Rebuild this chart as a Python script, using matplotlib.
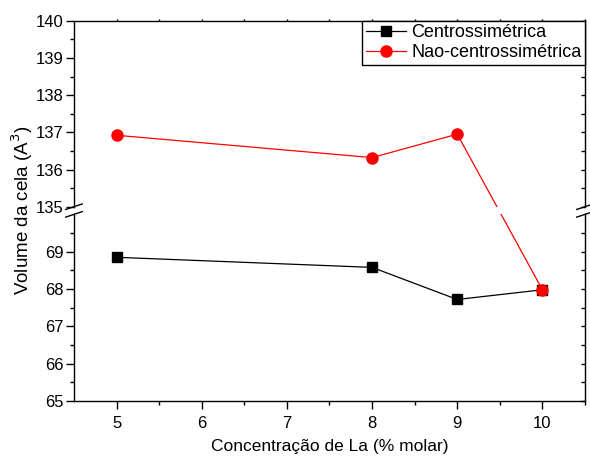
import matplotlib
matplotlib.use('Agg')
import matplotlib.pyplot as plt
from matplotlib.lines import Line2D
from matplotlib.ticker import FixedLocator
import numpy as np

plt.rcParams['font.family'] = ['Liberation Sans', 'DejaVu Sans']

conc = [5, 8, 9, 10]
vol_centro = [68.85, 68.58, 67.72, 67.98]
vol_nao = [136.92, 136.32, 136.95, 67.98]
series_names = ['Centrossimétrica', 'Nao-centrossimétrica']

fig = plt.figure(figsize=(5.9, 4.57), dpi=100)
ax_top = fig.add_axes([0.1254, 0.5477, 0.8661, 0.4070])
ax_bot = fig.add_axes([0.1254, 0.1225, 0.8661, 0.4084])

ax_top.set_xlim(4.5, 10.5)
ax_bot.set_xlim(4.5, 10.5)
ax_top.set_ylim(135, 140)
ax_bot.set_ylim(65, 70)

ax_top.spines['bottom'].set_visible(False)
ax_bot.spines['top'].set_visible(False)

ymaj = {ax_top: [135, 136, 137, 138, 139, 140], ax_bot: [65, 66, 67, 68, 69]}
ymin = {ax_top: np.arange(135.5, 140, 1.0), ax_bot: np.arange(65.5, 70, 1.0)}

for ax in (ax_top, ax_bot):
    for s in ax.spines.values():
        s.set_linewidth(1.0)
    ax.yaxis.set_major_locator(FixedLocator(ymaj[ax]))
    ax.yaxis.set_minor_locator(FixedLocator(ymin[ax]))
    ax.tick_params(axis='y', which='major', direction='out', length=5.5, width=1,
                   labelsize=12, pad=2)
    ax.tick_params(axis='y', which='minor', direction='out', length=3, width=1)

    # right-hand ticks point inward: separate twin axis
    tw = ax.twinx()
    tw.set_ylim(ax.get_ylim())
    for s in tw.spines.values():
        s.set_visible(False)
    tw.yaxis.set_major_locator(FixedLocator(ymaj[ax]))
    tw.yaxis.set_minor_locator(FixedLocator(ymin[ax]))
    tw.tick_params(axis='y', which='both', direction='in', length=3, width=1,
                   labelright=False)
    tw.set_xticks([])

xmaj = [5, 6, 7, 8, 9, 10]
xmin = [5.5, 6.5, 7.5, 8.5, 9.5, 10.5]
for ax in (ax_top, ax_bot):
    ax.xaxis.set_major_locator(FixedLocator(xmaj))
    ax.xaxis.set_minor_locator(FixedLocator(xmin))

ax_top.tick_params(axis='x', which='both', bottom=False, labelbottom=False,
                   top=True, direction='out', length=1.5, width=1)
ax_bot.tick_params(axis='x', which='major', direction='out', length=5.5, width=1,
                   labelsize=12, pad=5)
ax_bot.tick_params(axis='x', which='minor', direction='out', length=3, width=1)

# black series (lower panel only)
ax_bot.plot(conc, vol_centro, color='black', lw=0.9, marker='s', ms=7, zorder=3)

# red series crosses the break: map points to display coords, then into each panel
fig.canvas.draw()
pts_disp = []
for x, y in zip(conc, vol_nao):
    ax = ax_top if y > 100 else ax_bot
    pts_disp.append(ax.transData.transform((x, y)))
pts_disp = np.array(pts_disp)
for ax in (ax_top, ax_bot):
    d = ax.transData.inverted().transform(pts_disp)
    ax.plot(d[:, 0], d[:, 1], color='red', lw=0.9, marker='o', ms=8, zorder=3)

# legend
handles = [Line2D([], [], color='black', lw=0.9, marker='s', ms=7),
           Line2D([], [], color='red', lw=0.9, marker='o', ms=8)]
leg = fig.legend(handles, series_names, loc='upper right',
                 bbox_to_anchor=(0.1254 + 0.8661, 0.5477 + 0.4070),
                 borderaxespad=0, fontsize=13, fancybox=False, framealpha=1,
                 edgecolor='black', handlelength=2.2, handletextpad=0.3,
                 borderpad=0.2, labelspacing=0.15)
leg.get_frame().set_linewidth(1.0)

# break marks
for xf in (0.1254, 0.1254 + 0.8661):
    for yf in (0.5477, 0.5309):
        fig.add_artist(Line2D([xf - 0.014, xf + 0.014], [yf - 0.006, yf + 0.006],
                              transform=fig.transFigure, color='black', lw=1.0))

ax_bot.set_xlabel('Concentração de La (% molar)', fontsize=12.5, labelpad=6)
fig.text(0.037, 0.54, 'Volume da cela (A$^3$)', rotation=90, fontsize=13.5,
         ha='center', va='center')

fig.savefig('out.png', dpi=100)
